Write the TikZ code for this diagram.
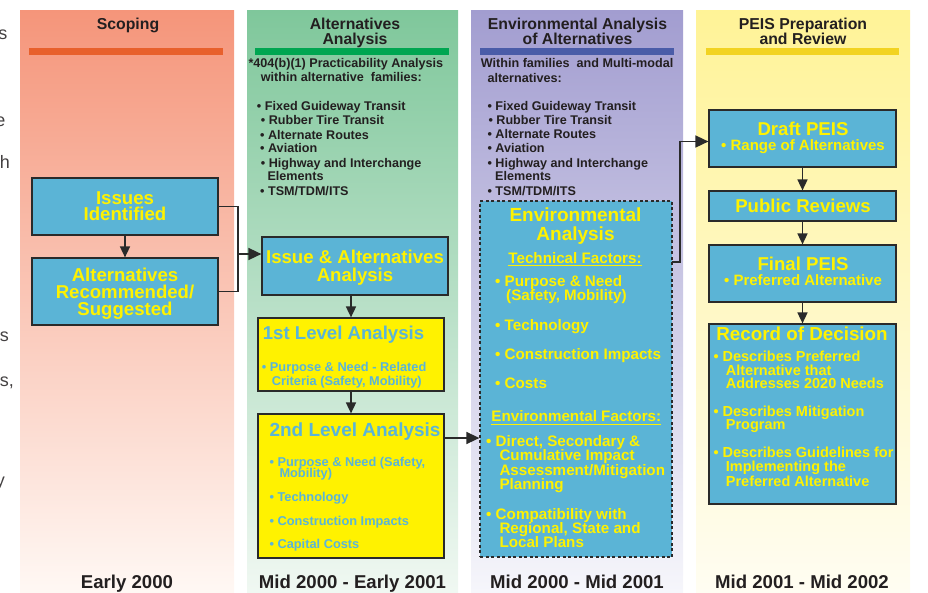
\documentclass[tikz,border=0pt]{standalone}
\usepackage{fontspec}
\setmainfont{Liberation Sans}
\usetikzlibrary{arrows.meta}
\definecolor{orgTop}{HTML}{F5957A}
\definecolor{orgBot}{HTML}{FFF8F4}
\definecolor{orgBar}{HTML}{E8602C}
\definecolor{grnTop}{HTML}{7FC79B}
\definecolor{grnBot}{HTML}{F0F8F2}
\definecolor{grnBar}{HTML}{00A651}
\definecolor{purTop}{HTML}{A29DD0}
\definecolor{purBot}{HTML}{F6F6FB}
\definecolor{purBar}{HTML}{4A5CA8}
\definecolor{ylwTop}{HTML}{FFF397}
\definecolor{ylwBot}{HTML}{FFFDF2}
\definecolor{ylwBar}{HTML}{F2D321}
\definecolor{boxBlue}{HTML}{5BB4D6}
\definecolor{boxYlw}{HTML}{FFF200}
\definecolor{txtYlw}{HTML}{FFF200}
\definecolor{txtBlue}{HTML}{5AB4D8}
\definecolor{inkDark}{HTML}{231F20}
\definecolor{lineDark}{HTML}{2A2A2A}
\newcommand\fz[2]{\fontsize{#1}{#2}\selectfont}
\begin{document}
\begin{tikzpicture}[x=1pt,y=-1pt,
  bluebox/.style={draw=lineDark, line width=1.2pt, fill=boxBlue, inner sep=0pt},
  ylwbox/.style={draw=lineDark, line width=1.2pt, fill=boxYlw, inner sep=0pt},
  hdr/.style={anchor=base, inner sep=0pt, text=inkDark, font=\fz{15.8}{15}\bfseries},
  coltxt/.style={anchor=base west, inner sep=0pt, text=inkDark, font=\fz{12.6}{14}\bfseries},
  datetxt/.style={anchor=base, inner sep=0pt, text=inkDark, font=\fz{18.6}{20}\bfseries},
  ybig/.style={anchor=base, inner sep=0pt, text=txtYlw, font=\fz{18.6}{18}\bfseries},
  ymid/.style={anchor=base, inner sep=0pt, text=txtYlw, font=\fz{15.2}{15}\bfseries},
  ymidl/.style={ymid, anchor=base west},
  ysml/.style={anchor=base west, inner sep=0pt, text=txtYlw, font=\fz{14.5}{14}\bfseries},
  bbig/.style={anchor=base west, inner sep=0pt, text=txtBlue, font=\fz{18.6}{18}\bfseries},
  bsml/.style={anchor=base west, inner sep=0pt, text=txtBlue, font=\fz{12.8}{14}\bfseries},
  frag/.style={anchor=base east, inner sep=0pt, text=inkDark!85, font=\fz{18}{20}},
  conn/.style={draw=lineDark, line width=1.6pt},
  arr/.style={conn, -{Triangle[length=11pt,width=10pt]}},
  bigarr/.style={conn, -{Triangle[length=13pt,width=12pt]}},
]
\useasboundingbox (0,0) rectangle (928,592);

% column backgrounds
\fill[top color=orgTop, bottom color=orgBot] (20,10) rectangle (234,592);
\fill[top color=grnTop, bottom color=grnBot] (247,10) rectangle (458,592);
\fill[top color=purTop, bottom color=purBot] (471,10) rectangle (683,592);
\fill[top color=ylwTop, bottom color=ylwBot] (696,10) rectangle (910,592);

% bars
\fill[orgBar] (29,48) rectangle (223,55);
\fill[grnBar] (255,48) rectangle (449,55);
\fill[purBar] (480,48) rectangle (674,55);
\fill[ylwBar] (706,48) rectangle (899,55);

% headers
\node[hdr] (h1) at (128,29) {Scoping};
\node[hdr] (h2a) at (355,29) {Alternatives};
\node[hdr] (h2b) at (355,44.3) {Analysis};
\node[hdr] (h3a) at (577.5,29) {Environmental Analysis};
\node[hdr] (h3b) at (577.5,44.3) {of Alternatives};
\node[hdr] (h4a) at (803,29) {PEIS Preparation};
\node[hdr] (h4b) at (803,44.3) {and Review};

% dates
\node[datetxt] (d1) at (127,588) {Early 2000};
\node[datetxt] (d2) at (352.5,588) {Mid 2000 - Early 2001};
\node[datetxt] (d3) at (577,588) {Mid 2000 - Mid 2001};
\node[datetxt] (d4) at (802,588) {Mid 2001 - Mid 2002};

% left fragments
\node[frag] (f1) at (7.5,39) {s};
\node[frag] (f2) at (5.5,126) {e};
\node[frag] (f3) at (10,168) {h};
\node[frag] (f4) at (9,341.5) {s};
\node[frag] (f5) at (14,386.5) {s,};
\node[frag] (f6) at (5,486) {y};

% column 2 text
\node[coltxt] (c2a) at (248.3,67.3) {*404(b)(1) Practicability Analysis};
\node[coltxt] (c2b) at (260.7,81.7) {within alternative\ \ families:};
\node[coltxt] (c2c) at (256.7,110) {• Fixed Guideway Transit};
\node[coltxt] (c2d) at (260.7,124) {• Rubber Tire Transit};
\node[coltxt] (c2e) at (260,139) {• Alternate Routes};
\node[coltxt] (c2f) at (260,152.7) {• Aviation};
\node[coltxt] (c2g) at (260.7,167.3) {• Highway and Interchange};
\node[coltxt] (c2h) at (267.3,180.7) {Elements};
\node[coltxt] (c2i) at (260,195) {• TSM/TDM/ITS};

% column 3 text
\node[coltxt] (c3a) at (480.7,67.3) {Within families\ \ and Multi-modal};
\node[coltxt] (c3b) at (487.3,82.3) {alternatives:};
\node[coltxt] (c3c) at (487.3,110) {• Fixed Guideway Transit};
\node[coltxt] (c3d) at (488.3,124) {• Rubber Tire Transit};
\node[coltxt] (c3e) at (487.3,138.3) {• Alternate Routes};
\node[coltxt] (c3f) at (487.3,152.7) {• Aviation};
\node[coltxt] (c3g) at (487.3,167.3) {• Highway and Interchange};
\node[coltxt] (c3h) at (495,180.7) {Elements};
\node[coltxt] (c3i) at (487.3,195) {• TSM/TDM/ITS};

% column 1 boxes
\node[bluebox, minimum width=186pt, minimum height=57pt] (issues) at (125,206.5) {};
\node[ybig] (issuesA) at (125,204) {Issues};
\node[ybig] (issuesB) at (125,220.7) {Identified};
\node[bluebox, minimum width=186pt, minimum height=67pt] (alts) at (125,291.5) {};
\node[ybig] (altsA) at (125,281.7) {Alternatives};
\node[ybig] (altsB) at (125,298.4) {Recommended/};
\node[ybig] (altsC) at (125,315) {Suggested};

% column 2 boxes
\node[bluebox, minimum width=186pt, minimum height=58pt] (iaa) at (355,266) {};
\node[ybig] (iaaA) at (355,263) {Issue \& Alternatives};
\node[ybig] (iaaB) at (355,281.3) {Analysis};

\node[ylwbox, minimum width=186pt, minimum height=73pt] (lvl1) at (351,354.5) {};
\node[bbig] (lvl1T) at (262.7,339.3) {1st Level Analysis};
\node[bsml] (lvl1a) at (261.7,371.7) {• Purpose \& Need - Related};
\node[bsml] (lvl1b) at (271.7,385) {Criteria (Safety, Mobility)};

\node[ylwbox, minimum width=186pt, minimum height=144pt] (lvl2) at (351,486) {};
\node[bbig, font=\fz{19}{19}\bfseries] (lvl2T) at (269.3,436.7) {2nd Level Analysis};
\node[bsml] (lvl2a) at (269.3,466) {• Purpose \& Need (Safety,};
\node[bsml] (lvl2b) at (279.3,477.3) {Mobility)};
\node[bsml] (lvl2c) at (269.3,501.7) {• Technology};
\node[bsml] (lvl2d) at (269.3,525) {• Construction Impacts};
\node[bsml] (lvl2e) at (269.3,548.3) {• Capital Costs};

% column 3 environmental box
\node[bluebox, draw=lineDark, line width=1.3pt, dash pattern=on 3pt off 2.5pt, minimum width=192pt, minimum height=356pt] (env) at (576,379) {};
\node[ybig, font=\fz{19}{19}\bfseries] (envA) at (575.5,221.7) {Environmental};
\node[ybig, font=\fz{19}{19}\bfseries] (envB) at (575.5,240) {Analysis};
\node[ymid] (tf) at (575,263.3) {Technical Factors:};
\draw[txtYlw, line width=1.3pt] ([yshift=-2.5pt]tf.base west) -- ([yshift=-2.5pt]tf.base east);
\node[ymidl] (e1) at (495,286) {• Purpose \& Need};
\node[ymidl] (e2) at (506,300) {(Safety, Mobility)};
\node[ymidl] (e3) at (495,330) {• Technology};
\node[ymidl] (e4) at (495,359.3) {• Construction Impacts};
\node[ymidl] (e5) at (495,388.3) {• Costs};
\node[ymid] (ef) at (576.3,421.7) {Environmental Factors:};
\draw[txtYlw, line width=1.3pt] ([yshift=-2.5pt]ef.base west) -- ([yshift=-2.5pt]ef.base east);
\node[ymidl] (e6) at (486,446) {• Direct, Secondary \&};
\node[ymidl] (e7) at (499.3,460) {Cumulative Impact};
\node[ymidl] (e8) at (499.3,475) {Assessment/Mitigation};
\node[ymidl] (e9) at (499.3,489.3) {Planning};
\node[ymidl] (e10) at (486,519.3) {• Compatibility with};
\node[ymidl] (e11) at (499.3,533.3) {Regional, State and};
\node[ymidl] (e12) at (499.3,547.3) {Local Plans};

% column 4 boxes
\node[bluebox, minimum width=187pt, minimum height=57pt] (draft) at (802.5,138.5) {};
\node[ybig] (draftA) at (803,135) {Draft PEIS};
\node[ymid, font=\fz{15}{15}\bfseries] (draftB) at (803,150) {• Range of Alternatives};
\node[bluebox, minimum width=187pt, minimum height=30pt] (pub) at (802.5,206) {};
\node[ybig] (pubA) at (803,212.3) {Public Reviews};
\node[bluebox, minimum width=187pt, minimum height=57pt] (final) at (802.5,273.5) {};
\node[ybig] (finalA) at (803,270) {Final PEIS};
\node[ymid, font=\fz{15}{15}\bfseries] (finalB) at (803,285) {• Preferred Alternative};
\node[bluebox, minimum width=187pt, minimum height=180pt] (rec) at (802.5,414) {};
\node[ybig, font=\fz{18.8}{19}\bfseries] (recT) at (802,340.7) {Record of Decision};
\node[ysml] (r1) at (713.3,361.7) {• Describes Preferred};
\node[ysml] (r2) at (725.7,375) {Alternative that};
\node[ysml] (r3) at (725.7,388.3) {Addresses 2020 Needs};
\node[ysml] (r4) at (713.3,416) {• Describes Mitigation};
\node[ysml] (r5) at (725.7,429.3) {Program};
\node[ysml] (r6) at (713.3,457.7) {• Describes Guidelines for};
\node[ysml] (r7) at (725.7,471.7) {Implementing the};
\node[ysml] (r8) at (725.7,486) {Preferred Alternative};

% connectors
\draw[arr] (issues.south) -- (alts.north);
\coordinate (bk) at (238,254);
\draw[conn] (issues.east) -| (bk) |- (alts.east);
\draw[bigarr] (bk) -- (bk -| iaa.west);
\draw[arr] (lvl1.north |- iaa.south) -- (lvl1.north);
\draw[arr] (lvl1.south) -- (lvl2.north);
\coordinate (l2o) at (444,438);
\draw[bigarr] (l2o) -- (l2o -| env.west);
\coordinate (eo) at (672,262);
\coordinate (ek) at (680,262);
\draw[bigarr] (eo) -- (ek) |- ([yshift=-3pt]draft.west);
\draw[arr] (draft.south) -- (pub.north);
\draw[arr] (pub.south) -- (final.north);
\draw[arr] (final.south) -- (rec.north);
\end{tikzpicture}
\end{document}
